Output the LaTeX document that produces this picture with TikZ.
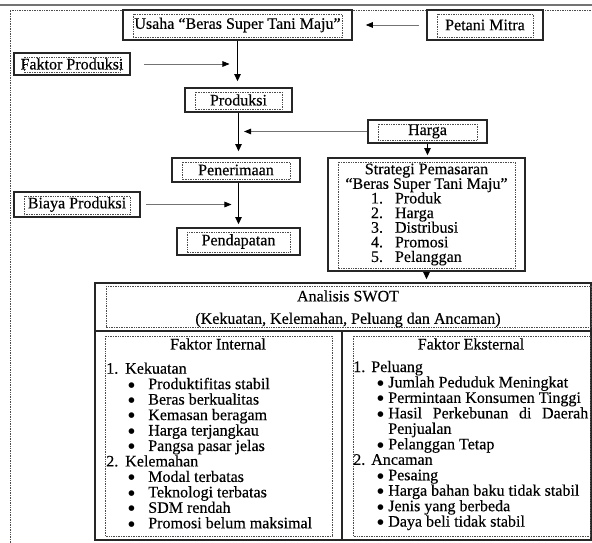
\documentclass[tikz,border=0pt]{standalone}
\usepackage{fontspec}
\setmainfont{Liberation Serif}[FakeBold=0.3]
\newfontfamily\symfont{DejaVu Sans}
\usetikzlibrary{arrows.meta}
\newcommand{\blt}{\raisebox{1.5pt}{\symfont\fontsize{5.2}{5.2}\selectfont ●}}
\newcommand{\numit}[3]{\makebox[#1][l]{#2}#3}
\newcommand{\bulit}[3]{\hspace*{#1}\makebox[#2][l]{\blt}#3}
\newcommand{\stratit}[2]{\makebox[31.25mm][l]{\hspace*{1.75mm}\makebox[6mm][l]{#1}#2}}
\tikzset{
  txtframe/.style={draw=black!70, line width=0.4pt, dash pattern=on 0.5pt off 0.7pt},
  txt/.style={inner sep=0pt, font=\fontsize{11.4}{11}\selectfont},
  sz/.style 2 args={minimum width=#1*0.25mm, minimum height=#2*0.25mm},
  panel/.style={draw=black!85, line width=1.15pt, fill=white, inner sep=0pt},
  box/.style={panel, txt,
    path picture={\draw[txtframe]
      ([shift={(2.5mm,-1mm)}]path picture bounding box.north west) rectangle
      ([shift={(-2.5mm,0.6mm)}]path picture bounding box.south east);}},
  flow/.style={-{Triangle[length=5pt,width=4.5pt]}, line width=1.1pt, black},
  feed/.style={-{Triangle[length=5pt,width=4pt,color=black]}, line width=0.5pt, black!55},
  list/.style={txt, align=left, anchor=west},
}
\begin{document}
\begin{tikzpicture}[x=0.25mm, y=-0.25mm]
  \useasboundingbox (0,0) rectangle (592,543);
  % page border and text area
  \draw[line width=1.4pt, black!55] (0,5) -- (592,5);
  \draw[txtframe] (10,543) -- (10,10) -- (592,10);

  % flow boxes
  \node[box, sz={229}{30}] (usaha) at (237.5,25) {Usaha “Beras Super Tani Maju”};
  \node[box, sz={116}{30}] (petani) at (485,25) {Petani Mitra};
  \node[box, sz={116}{22}] (faktor) at (72,64) {Faktor Produksi};
  \node[box, sz={107}{24}] (produksi) at (238.5,100) {Produksi};
  \node[box, sz={119}{23}] (harga) at (427.5,131.5) {Harga};
  \node[box, sz={128}{24}] (penerimaan) at (236,170) {Penerimaan};
  \node[box, sz={126}{25}] (biaya) at (77,204.5) {Biaya Produksi};
  \node[box, sz={123}{27}] (pendapatan) at (238.5,241.5) {Pendapatan};
  \node[box, sz={197}{113}, align=center, font=\fontsize{11.4}{10.4}\selectfont] (strategi) at (426.5,214.5)
    {Strategi Pemasaran\\ “Beras Super Tani Maju”\\
     \stratit{1.}{Produk}\\ \stratit{2.}{Harga}\\ \stratit{3.}{Distribusi}\\
     \stratit{4.}{Promosi}\\ \stratit{5.}{Pelanggan}};

  % connectors
  \draw[feed, shorten <=1.75mm, shorten >=3.25mm] (petani) -- (usaha);
  \draw[flow, shorten >=1.5mm] (usaha.south) -- (usaha.south |- produksi.north);
  \draw[feed, shorten <=3.25mm, shorten >=2mm] (faktor.east) -- (faktor.east -| usaha.south);
  \draw[flow, shorten >=1.5mm] (produksi.south) -- (produksi.south |- penerimaan.north);
  \draw[feed, shorten >=1.4mm] (harga.west) -- (harga.west -| produksi.south);
  \draw[flow, shorten >=0.75mm] (pendapatan.north |- penerimaan.south) -- (pendapatan.north);
  \draw[feed, shorten <=1.25mm, shorten >=1.75mm] (biaya.east) -- (biaya.east -| pendapatan.north);
  \draw[flow, shorten >=0.5mm] (harga.south) -- (harga.south |- strategi.north);

  % SWOT table
  \node[panel, sz={496}{257}] (swot) at (343,411.5) {};
  \draw[flow, shorten >=0.75mm] (strategi.south) -- (strategi.south |- swot.north);
  \coordinate (hdr) at (0,331);
  \coordinate (div) at (342,331);
  \draw[panel] (swot.west |- hdr) -- (swot.east |- hdr);
  \draw[panel] (div) -- (div |- swot.south);
  \draw[txtframe] (106,286) rectangle (591,327);
  \draw[txtframe] (105,336) rectangle (332,536);
  \draw[txtframe] (353,336) rectangle (590,536);

  \node[txt] (swottitle) at (348,296) {Analisis SWOT};
  \node[txt] (swotsub) at (348,320) {(Kekuatan, Kelemahan, Peluang dan Ancaman)};
  \node[txt] (inthead) at (218,344) {Faktor Internal};
  \node[txt] (exthead) at (471,344) {Faktor Eksternal};
  \node[list] (intlist) at (106,445.5)
    {\numit{4.75mm}{1.}{Kekuatan}\\
     \bulit{5.5mm}{5mm}{Produktifitas stabil}\\
     \bulit{5.5mm}{5mm}{Beras berkualitas}\\
     \bulit{5.5mm}{5mm}{Kemasan beragam}\\
     \bulit{5.5mm}{5mm}{Harga terjangkau}\\
     \bulit{5.5mm}{5mm}{Pangsa pasar jelas}\\
     \numit{4.75mm}{2.}{Kelemahan}\\
     \bulit{5.5mm}{5mm}{Modal terbatas}\\
     \bulit{5.5mm}{5mm}{Teknologi terbatas}\\
     \bulit{5.5mm}{5mm}{SDM rendah}\\
     \bulit{5.5mm}{5mm}{Promosi belum maksimal}};
  \node[list] (extlist) at (353,445.5)
    {\numit{4.5mm}{1.}{Peluang}\\
     \bulit{6mm}{2.75mm}{Jumlah Peduduk Meningkat}\\
     \bulit{6mm}{2.75mm}{Permintaan Konsumen Tinggi}\\
     \bulit{6mm}{2.75mm}{\makebox[50mm][s]{Hasil Perkebunan di Daerah}}\\
     \hspace*{8.75mm}Penjualan\\
     \bulit{6mm}{2.75mm}{Pelanggan Tetap}\\
     \numit{4.5mm}{2.}{Ancaman}\\
     \bulit{6mm}{2.75mm}{Pesaing}\\
     \bulit{6mm}{2.75mm}{Harga bahan baku tidak stabil}\\
     \bulit{6mm}{2.75mm}{Jenis yang berbeda}\\
     \bulit{6mm}{2.75mm}{Daya beli tidak stabil}};
\end{tikzpicture}
\end{document}
